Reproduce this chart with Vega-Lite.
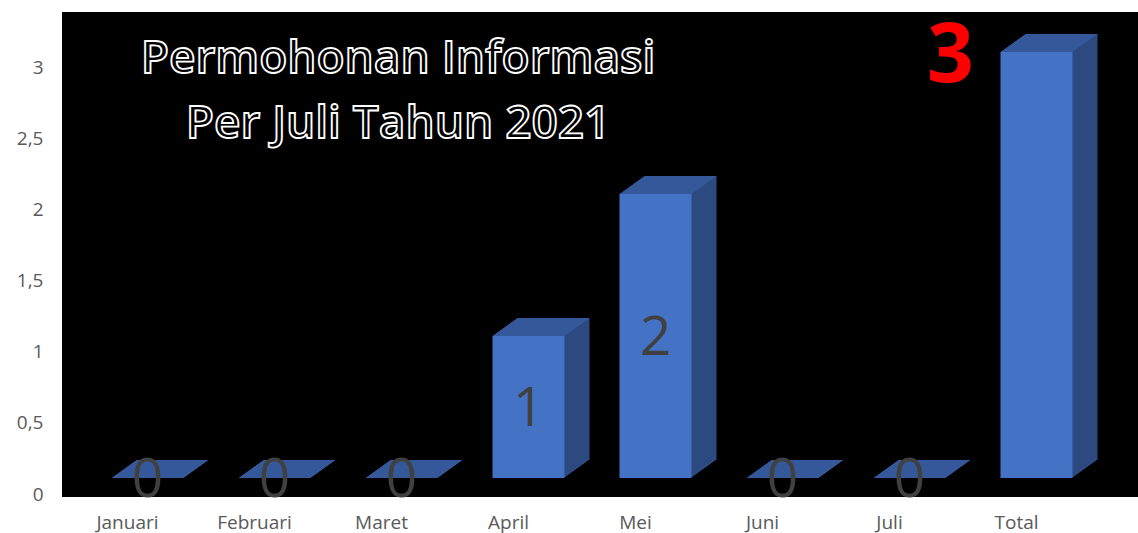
{
  "$schema": "https://vega.github.io/schema/vega-lite/v6.json",
  "width": 1076,
  "height": 485,
  "autosize": "none",
  "padding": {"left": 62, "top": 12, "right": 0, "bottom": 36},
  "background": "white",
  "title": {
    "text": ["Permohonan Informasi", "Per Juli Tahun 2021"],
    "anchor": "start",
    "frame": "group",
    "align": "center",
    "dx": 336,
    "baseline": "top",
    "offset": -136,
    "font": "Open Sans",
    "fontSize": 46,
    "fontWeight": 600,
    "color": "black",
    "lineHeight": 65
  },
  "config": {
    "view": {"fill": "black", "stroke": null},
    "style": {"group-title": {"stroke": "white", "strokeWidth": 1.8}}
  },
  "data": {
    "values": [
      {"month": "Januari", "value": 0},
      {"month": "Februari", "value": 0},
      {"month": "Maret", "value": 0},
      {"month": "April", "value": 1},
      {"month": "Mei", "value": 2},
      {"month": "Juni", "value": 0},
      {"month": "Juli", "value": 0},
      {"month": "Total", "value": 3}
    ]
  },
  "encoding": {
    "x": {
      "field": "month",
      "type": "nominal",
      "sort": null,
      "scale": {"type": "band", "range": [2, 1018], "paddingInner": 0, "paddingOuter": 0},
      "axis": {"title": null, "labelAngle": 0, "domain": false, "ticks": false, "tickSize": 0, "labelPadding": 16, "labelFont": "Open Sans", "labelFontSize": 19, "labelColor": "#595959", "grid": false}
    }
  },
  "resolve": {"scale": {"y": "independent"}},
  "layer": [
    {
      "encoding": {
        "y": {
          "field": "value",
          "type": "quantitative",
          "scale": {"domain": [-0.0211, 3.394], "nice": false, "zero": false},
          "axis": {"title": null, "values": [0, 0.5, 1, 1.5, 2, 2.5, 3], "labelExpr": "replace(format(datum.value, '~g'), '.', ',')", "domain": false, "ticks": false, "tickSize": 0, "grid": false, "labelPadding": 19, "labelFont": "Open Sans", "labelFontSize": 19, "labelColor": "#595959"}
        }
      },
      "layer": [
        {"mark": {"type": "bar", "width": 72, "color": "#2C4A80", "xOffset": 21.39, "yOffset": -17, "y2Offset": -17}, "encoding": {"y2": {"datum": 0}}},
        {"mark": {"type": "bar", "width": 72, "color": "#2C4A80", "xOffset": 22.78, "yOffset": -18, "y2Offset": -18}, "encoding": {"y2": {"datum": 0}}},
        {"mark": {"type": "bar", "width": 72, "color": "#2C4A80", "xOffset": 24.17, "yOffset": -19, "y2Offset": -19}, "encoding": {"y2": {"datum": 0}}},
        {"mark": {"type": "bar", "width": 72, "color": "#2C4A80", "xOffset": 25.56, "yOffset": -20, "y2Offset": -20}, "encoding": {"y2": {"datum": 0}}},
        {"mark": {"type": "bar", "width": 72, "color": "#2C4A80", "xOffset": 26.94, "yOffset": -21, "y2Offset": -21}, "encoding": {"y2": {"datum": 0}}},
        {"mark": {"type": "bar", "width": 72, "color": "#2C4A80", "xOffset": 28.33, "yOffset": -22, "y2Offset": -22}, "encoding": {"y2": {"datum": 0}}},
        {"mark": {"type": "bar", "width": 72, "color": "#2C4A80", "xOffset": 29.72, "yOffset": -23, "y2Offset": -23}, "encoding": {"y2": {"datum": 0}}},
        {"mark": {"type": "bar", "width": 72, "color": "#2C4A80", "xOffset": 31.11, "yOffset": -24, "y2Offset": -24}, "encoding": {"y2": {"datum": 0}}},
        {"mark": {"type": "bar", "width": 72, "color": "#2C4A80", "xOffset": 32.5, "yOffset": -25, "y2Offset": -25}, "encoding": {"y2": {"datum": 0}}},
        {"mark": {"type": "bar", "width": 72, "color": "#2C4A80", "xOffset": 33.89, "yOffset": -26, "y2Offset": -26}, "encoding": {"y2": {"datum": 0}}},
        {"mark": {"type": "bar", "width": 72, "color": "#2C4A80", "xOffset": 35.28, "yOffset": -27, "y2Offset": -27}, "encoding": {"y2": {"datum": 0}}},
        {"mark": {"type": "bar", "width": 72, "color": "#2C4A80", "xOffset": 36.67, "yOffset": -28, "y2Offset": -28}, "encoding": {"y2": {"datum": 0}}},
        {"mark": {"type": "bar", "width": 72, "color": "#2C4A80", "xOffset": 38.06, "yOffset": -29, "y2Offset": -29}, "encoding": {"y2": {"datum": 0}}},
        {"mark": {"type": "bar", "width": 72, "color": "#2C4A80", "xOffset": 39.44, "yOffset": -30, "y2Offset": -30}, "encoding": {"y2": {"datum": 0}}},
        {"mark": {"type": "bar", "width": 72, "color": "#2C4A80", "xOffset": 40.83, "yOffset": -31, "y2Offset": -31}, "encoding": {"y2": {"datum": 0}}},
        {"mark": {"type": "bar", "width": 72, "color": "#2C4A80", "xOffset": 42.22, "yOffset": -32, "y2Offset": -32}, "encoding": {"y2": {"datum": 0}}},
        {"mark": {"type": "bar", "width": 72, "color": "#2C4A80", "xOffset": 43.61, "yOffset": -33, "y2Offset": -33}, "encoding": {"y2": {"datum": 0}}},
        {"mark": {"type": "bar", "width": 72, "color": "#2C4A80", "xOffset": 45, "yOffset": -34, "y2Offset": -34}, "encoding": {"y2": {"datum": 0}}},
        {"mark": {"type": "bar", "width": 72, "color": "#34589A", "xOffset": 20.69, "yOffset": -16, "y2Offset": -17}, "encoding": {"y2": {"field": "value"}}},
        {"mark": {"type": "bar", "width": 72, "color": "#34589A", "xOffset": 22.08, "yOffset": -17, "y2Offset": -18}, "encoding": {"y2": {"field": "value"}}},
        {"mark": {"type": "bar", "width": 72, "color": "#34589A", "xOffset": 23.47, "yOffset": -18, "y2Offset": -19}, "encoding": {"y2": {"field": "value"}}},
        {"mark": {"type": "bar", "width": 72, "color": "#34589A", "xOffset": 24.86, "yOffset": -19, "y2Offset": -20}, "encoding": {"y2": {"field": "value"}}},
        {"mark": {"type": "bar", "width": 72, "color": "#34589A", "xOffset": 26.25, "yOffset": -20, "y2Offset": -21}, "encoding": {"y2": {"field": "value"}}},
        {"mark": {"type": "bar", "width": 72, "color": "#34589A", "xOffset": 27.64, "yOffset": -21, "y2Offset": -22}, "encoding": {"y2": {"field": "value"}}},
        {"mark": {"type": "bar", "width": 72, "color": "#34589A", "xOffset": 29.03, "yOffset": -22, "y2Offset": -23}, "encoding": {"y2": {"field": "value"}}},
        {"mark": {"type": "bar", "width": 72, "color": "#34589A", "xOffset": 30.42, "yOffset": -23, "y2Offset": -24}, "encoding": {"y2": {"field": "value"}}},
        {"mark": {"type": "bar", "width": 72, "color": "#34589A", "xOffset": 31.81, "yOffset": -24, "y2Offset": -25}, "encoding": {"y2": {"field": "value"}}},
        {"mark": {"type": "bar", "width": 72, "color": "#34589A", "xOffset": 33.19, "yOffset": -25, "y2Offset": -26}, "encoding": {"y2": {"field": "value"}}},
        {"mark": {"type": "bar", "width": 72, "color": "#34589A", "xOffset": 34.58, "yOffset": -26, "y2Offset": -27}, "encoding": {"y2": {"field": "value"}}},
        {"mark": {"type": "bar", "width": 72, "color": "#34589A", "xOffset": 35.97, "yOffset": -27, "y2Offset": -28}, "encoding": {"y2": {"field": "value"}}},
        {"mark": {"type": "bar", "width": 72, "color": "#34589A", "xOffset": 37.36, "yOffset": -28, "y2Offset": -29}, "encoding": {"y2": {"field": "value"}}},
        {"mark": {"type": "bar", "width": 72, "color": "#34589A", "xOffset": 38.75, "yOffset": -29, "y2Offset": -30}, "encoding": {"y2": {"field": "value"}}},
        {"mark": {"type": "bar", "width": 72, "color": "#34589A", "xOffset": 40.14, "yOffset": -30, "y2Offset": -31}, "encoding": {"y2": {"field": "value"}}},
        {"mark": {"type": "bar", "width": 72, "color": "#34589A", "xOffset": 41.53, "yOffset": -31, "y2Offset": -32}, "encoding": {"y2": {"field": "value"}}},
        {"mark": {"type": "bar", "width": 72, "color": "#34589A", "xOffset": 42.92, "yOffset": -32, "y2Offset": -33}, "encoding": {"y2": {"field": "value"}}},
        {"mark": {"type": "bar", "width": 72, "color": "#34589A", "xOffset": 44.31, "yOffset": -33, "y2Offset": -34}, "encoding": {"y2": {"field": "value"}}},
        {"mark": {"type": "bar", "width": 72, "color": "#4472C4", "xOffset": 20, "yOffset": -16, "y2Offset": -16}, "encoding": {"y2": {"datum": 0}}},
        {
          "transform": [{"filter": "datum.month === 'Total'"}],
          "mark": {"type": "text", "dx": -66, "dy": -11, "baseline": "middle", "align": "center", "font": "Open Sans", "fontSize": 82, "fontWeight": "bold", "color": "#FF0000"},
          "encoding": {"text": {"field": "value", "type": "quantitative"}}
        }
      ]
    },
    {
      "transform": [{"filter": "datum.month !== 'Total'"}],
      "mark": {"type": "text", "dx": 20, "dy": -14, "baseline": "middle", "align": "center", "font": "Open Sans", "fontSize": 55, "color": "#404040"},
      "encoding": {
        "y": {"field": "value", "type": "quantitative", "scale": {"domain": [-0.0422, 6.788], "nice": false, "zero": false}, "axis": null},
        "text": {"field": "value", "type": "quantitative"}
      }
    }
  ]
}
